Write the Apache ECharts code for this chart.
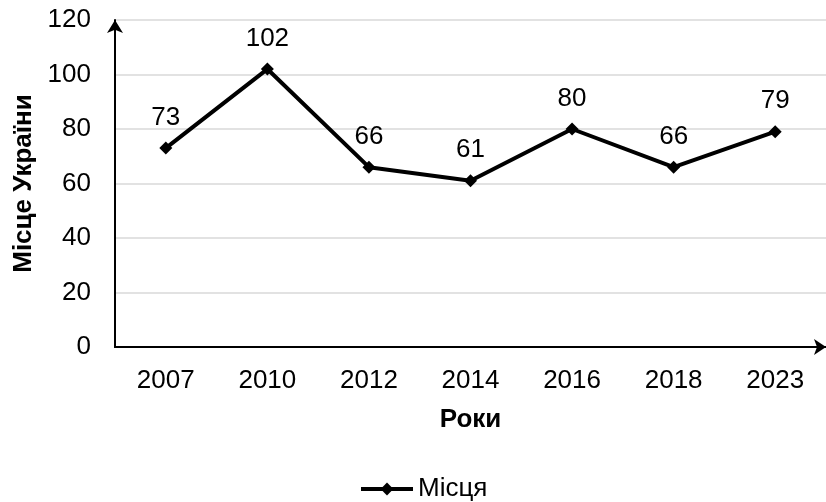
<!DOCTYPE html>
<html><head><meta charset="utf-8">
<script src="https://cdn.jsdelivr.net/npm/echarts@6/dist/echarts.min.js"></script>
<style>html,body{margin:0;padding:0;background:#fff}#c{width:826px;height:502px}</style>
</head><body><div id="c"></div>
<script>
const categories = ['2007','2010','2012','2014','2016','2018','2023'];
const places = [73, 102, 66, 61, 80, 66, 79];
const yTicks = {min: 0, max: 120, interval: 20};
const seriesName = 'Місця';
const xTitle = 'Роки';
const yTitle = 'Місце України';

const font = 'Liberation Sans, Arial, sans-serif';
const fs = 26;
const chart = echarts.init(document.getElementById('c'), null, {renderer: 'canvas'});
chart.setOption({
  animation: false,
  backgroundColor: '#fff',
  textStyle: {fontFamily: font},
  legend: {
    top: 471, left: 354,
    itemWidth: 52, itemHeight: 16, itemGap: 10,
    textStyle: {fontSize: fs, color: '#000', fontFamily: font},
    lineStyle: {width: 4, color: '#000'},
    itemStyle: {color: '#000'},
    data: [seriesName]
  },
  grid: [
    {left: 115, top: 20, bottom: 155, right: -11, containLabel: false},
    {left: 115, top: 20, bottom: 155, right: 0, containLabel: false}
  ],
  xAxis: [{
    type: 'category', gridIndex: 0, data: categories,
    axisLine: {show: true, lineStyle: {color: '#000', width: 2}},
    axisTick: {show: false},
    axisLabel: {fontSize: fs, color: '#000', margin: 21, fontFamily: font},
    name: xTitle, nameLocation: 'middle', nameGap: 60,
    nameTextStyle: {fontSize: fs, fontWeight: 'bold', color: '#000', fontFamily: font}
  }, {
    type: 'value', gridIndex: 1, min: 0, max: 1,
    axisLine: {show: true, symbol: ['none', 'arrow'], symbolSize: [12, 12], lineStyle: {color: '#000', width: 2}},
    axisTick: {show: false}, axisLabel: {show: false}, splitLine: {show: false}
  }],
  yAxis: [{
    type: 'value', gridIndex: 0, min: yTicks.min, max: yTicks.max, interval: yTicks.interval,
    axisLine: {show: true, symbol: ['none', 'arrow'], symbolSize: [12, 13], lineStyle: {color: '#000', width: 2}},
    axisTick: {show: false},
    axisLabel: {fontSize: fs, color: '#000', margin: 24, fontFamily: font},
    splitLine: {show: true, lineStyle: {color: '#d9d9d9', width: 1.5}},
    name: yTitle, nameLocation: 'middle', nameGap: 74, nameRotate: 90,
    nameTextStyle: {fontSize: fs, fontWeight: 'bold', color: '#000', fontFamily: font}
  }, {
    type: 'value', gridIndex: 1, min: 0, max: 1, show: false
  }],
  series: [{
    name: seriesName, type: 'line', xAxisIndex: 0, yAxisIndex: 0,
    data: places,
    symbol: 'diamond', symbolSize: 13,
    lineStyle: {color: '#000', width: 4},
    itemStyle: {color: '#000'},
    label: {show: true, position: 'top', distance: 11, fontSize: fs, color: '#000', fontFamily: font}
  }]
});
</script></body></html>
